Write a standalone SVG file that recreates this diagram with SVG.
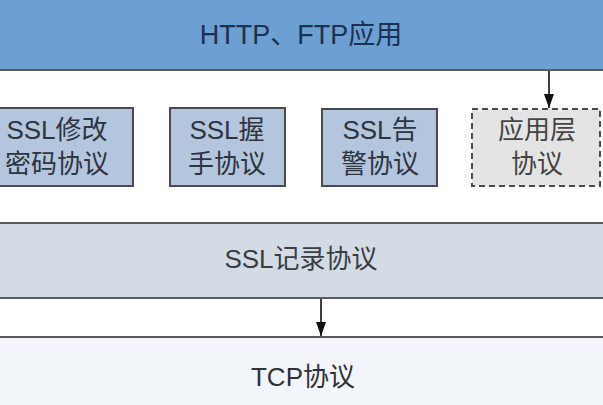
<svg xmlns="http://www.w3.org/2000/svg" width="603" height="405" viewBox="0 0 603 405">
<defs>
<style>
.t{font-family:"Liberation Sans","Noto Sans CJK SC",sans-serif;text-anchor:middle}
.box{fill:#b3c6dd;stroke:#4a4a4a;stroke-width:2}
.bt{font-size:26px;fill:#2e3440}
.band{stroke:#5a5a5a;stroke-width:2}
.conn{stroke:#111;stroke-width:1.6;fill:none}
</style>
<marker id="ah" markerWidth="15" markerHeight="10" refX="14" refY="5" orient="auto" markerUnits="userSpaceOnUse" viewBox="0 0 15 10">
<path d="M0,0 L14,5 L0,10 Z" fill="#111"/>
</marker>
</defs>
<rect width="603" height="405" fill="#ffffff"/>
<g id="http-ftp">
<rect x="-2" y="-2" width="607" height="72" fill="#6c9fd2" class="band"/>
<text class="t" x="301" y="44" font-size="27" fill="#1c3050">HTTP、FTP应用</text>
</g>
<g id="ssl-change-cipher">
<rect class="box" x="-1" y="108" width="134" height="78"/>
<text class="t bt" x="57" y="139">SSL修改</text>
<text class="t bt" x="57" y="173">密码协议</text>
</g>
<g id="ssl-handshake">
<rect class="box" x="170" y="108" width="115" height="78"/>
<text class="t bt" x="227" y="139">SSL握</text>
<text class="t bt" x="227" y="173">手协议</text>
</g>
<g id="ssl-alert">
<rect class="box" x="322" y="109" width="115" height="77"/>
<text class="t bt" x="380" y="139">SSL告</text>
<text class="t bt" x="380" y="173">警协议</text>
</g>
<g id="app-layer">
<rect x="472" y="109" width="128" height="77" fill="#e4e4e4" stroke="#4a4a4a" stroke-width="2" stroke-dasharray="6,4"/>
<text class="t" x="537" y="139" font-size="26" fill="#444">应用层</text>
<text class="t" x="537" y="173" font-size="26" fill="#444">协议</text>
</g>
<g id="ssl-record">
<rect x="-2" y="223" width="607" height="75" fill="#d3dbe5" class="band"/>
<text class="t" x="301" y="268" font-size="26" fill="#3a3d42">SSL记录协议</text>
</g>
<g id="tcp">
<rect x="-2" y="337" width="607" height="70" fill="#f2f5fa" class="band"/>
<text class="t" x="303" y="386" font-size="26" fill="#2e3136">TCP协议</text>
</g>
<g id="connectors">
<line class="conn" x1="549" y1="71" x2="549" y2="108" marker-end="url(#ah)"/>
<line class="conn" x1="321" y1="299" x2="321" y2="336" marker-end="url(#ah)"/>
</g>
</svg>
